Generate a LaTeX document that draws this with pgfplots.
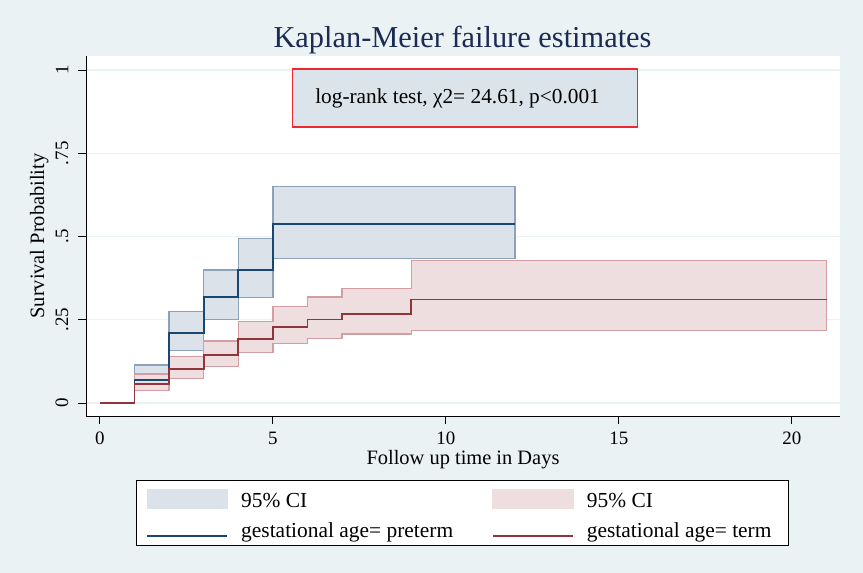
\documentclass[border=0pt]{standalone}
\usepackage{pgfplots}
\pgfplotsset{compat=1.18}
\usepackage{fontspec}
\setmainfont{Liberation Serif}
\definecolor{bgc}{RGB}{234,242,243}
\definecolor{gridc}{RGB}{234,242,243}
\definecolor{boxc}{RGB}{218,228,234}
\definecolor{boxr}{RGB}{236,40,50}
\definecolor{bfill}{RGB}{220,226,234}
\definecolor{bedge}{RGB}{140,162,186}
\definecolor{rfill}{RGB}{238,222,224}
\definecolor{redge}{RGB}{211,158,163}
\definecolor{bline}{RGB}{26,71,111}
\definecolor{rline}{RGB}{144,53,59}
\definecolor{titlec}{RGB}{28,42,84}
\begin{document}
\begin{tikzpicture}
\fill[bgc] (0bp,0bp) rectangle (863bp,573bp);
\begin{axis}[
  at={(86bp,157bp)}, anchor=south west,
  scale only axis, width=754bp, height=360bp,
  xmin=-0.4, xmax=21.39, ymin=-0.039, ymax=1.042,
  axis x line=bottom, axis y line=left, axis line style={-, black, line width=0.9bp},
  axis background/.style={fill=white},
  xtick={0,5,10,15,20}, xticklabels={0,5,10,15,20},
  ytick={0,0.25,0.5,0.75,1}, yticklabels={0,.25,.5,.75,1},
  tick align=outside, major tick length=7.5bp,
  tick style={black, line width=0.9bp},
  ymajorgrids, grid style={color=gridc, line width=1.3bp},
  /pgf/number format/assume math mode=true,
  tick label style={font=\fontsize{19}{22}\selectfont},
  xticklabel style={yshift=-5bp},
  yticklabel style={rotate=90, anchor=south, inner sep=0bp, yshift=10bp},
  xlabel={Follow up time in Days},
  ylabel={Survival Probability},
  label style={font=\fontsize{20.5}{24}\selectfont},
  xlabel style={at={(axis description cs:0.5,-0.122)}, anchor=center},
  ylabel style={at={(axis description cs:-0.062,0.5)}, anchor=center},
  legend columns=2,
  legend cell align=left,
  legend style={at={(axis description cs:0.0663,-0.1778)}, anchor=north west,
    draw=black, line width=0.9bp, fill=white,
    font=\fontsize{21.5}{25}\selectfont,
    inner xsep=10bp, inner ysep=3bp,
    nodes={inner sep=0bp, text height=15bp, text depth=5bp},
    row sep=9.4bp,
    /tikz/every odd column/.append style={column sep=13bp},
    /tikz/every even column/.append style={column sep=39bp}},
]
% blue CI (preterm)
\addplot[fill=bfill, draw=bedge, line width=1.3bp,
  legend image code/.code={\fill[bfill] (0bp,-5.7bp) rectangle (80bp,13.3bp); \path (0bp,18.8bp);}]
  coordinates {
  (1,0.114) (2,0.114) (2,0.275) (3,0.275) (3,0.399) (4,0.399) (4,0.495) (5,0.495) (5,0.650) (12,0.650)
  (12,0.434) (5,0.434) (5,0.316) (4,0.316) (4,0.250) (3,0.250) (3,0.157) (2,0.157) (2,0.045) (1,0.045)
  } -- cycle;
\addlegendentry{95\% CI}
% red CI (term)
\addplot[fill=rfill, draw=redge, line width=1.3bp,
  legend image code/.code={\fill[rfill] (0bp,-5.7bp) rectangle (80bp,13.3bp); \path (0bp,18.8bp);}]
  coordinates {
  (1,0.087) (2,0.087) (2,0.139) (3,0.139) (3,0.186) (4,0.186) (4,0.245) (5,0.245) (5,0.289) (6,0.289) (6,0.318) (7,0.318) (7,0.344) (9,0.344) (9,0.428) (21,0.428)
  (21,0.218) (9,0.218) (9,0.207) (7,0.207) (7,0.194) (6,0.194) (6,0.179) (5,0.179) (5,0.151) (4,0.151) (4,0.110) (3,0.110) (3,0.074) (2,0.074) (2,0.037) (1,0.037)
  } -- cycle;
\addlegendentry{95\% CI}
% blue line
\addplot[const plot, draw=bline, line width=1.8bp,
  legend image code/.code={\draw[bline, line width=1.8bp] (0bp,-4bp) -- (80bp,-4bp);}]
  coordinates {(0,0) (1,0.070) (2,0.210) (3,0.318) (4,0.400) (5,0.538) (12,0.538)};
\addlegendentry{gestational age= preterm}
% red line
\addplot[const plot, draw=rline, line width=1.8bp,
  legend image code/.code={\draw[rline, line width=1.8bp] (0bp,-4bp) -- (80bp,-4bp);}]
  coordinates {(0,0) (1,0.057) (2,0.101) (3,0.144) (4,0.193) (5,0.228) (6,0.251) (7,0.268) (9,0.311) (21,0.311)};
\addlegendentry{gestational age= term\hspace{6.5bp}\null}
\node[draw=boxr, fill=boxc, line width=1.6bp, minimum width=345bp, minimum height=58bp,
  font=\fontsize{21.4}{25}\selectfont] at (axis cs:10.555,0.915) {log-rank test, χ2= 24.61, p<0.001\hspace{15bp}\null};
\end{axis}
\node[anchor=base, font=\fontsize{30.5}{34}\selectfont, text=titlec] at (462.5bp,525bp) {Kaplan-Meier failure estimates};
\end{tikzpicture}
\end{document}
